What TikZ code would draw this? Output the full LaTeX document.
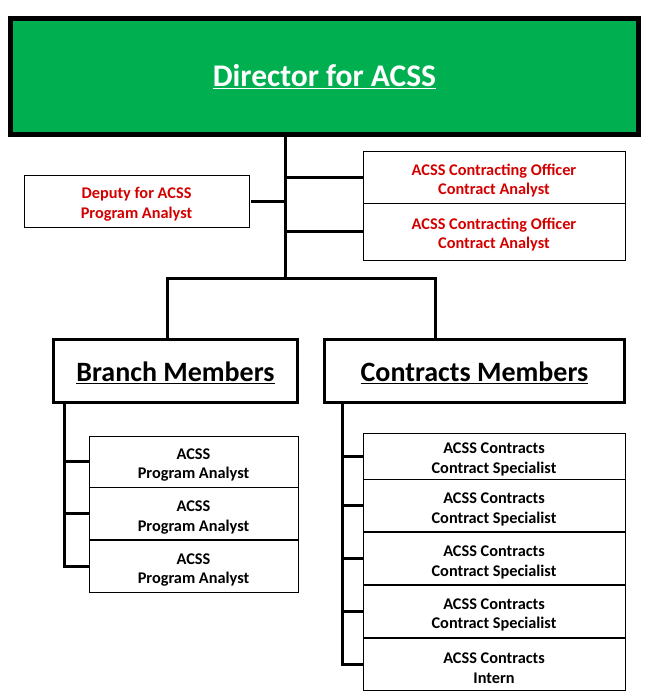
\documentclass[tikz,border=0pt]{standalone}
\usepackage{fontspec}
\setmainfont{Carlito}
\usepackage{tikz}
\usetikzlibrary{positioning}
\definecolor{dirgreen}{RGB}{0,176,80}
\definecolor{posred}{RGB}{212,0,0}
\newcommand{\twoline}[2]{\rule{0pt}{17.5pt}#1\\#2}
\tikzset{
    director/.style={rectangle, minimum width=628pt, minimum height=116pt, line width=5pt, draw=black, fill=dirgreen, text=white, font=\bfseries\fontsize{31.5}{36}\selectfont},
    group/.style={rectangle, minimum height=63pt, line width=3pt, draw=black, fill=white, font=\bfseries\fontsize{28}{32}\selectfont, execute at begin node={\rule{0pt}{24pt}}},
    post/.style={rectangle, minimum width=262pt, minimum height=52pt, draw=black, line width=0.9pt, fill=white, align=center, font=\bfseries\fontsize{16.3}{19.5}\selectfont, inner sep=0pt},
    redpost/.style={post, text=posred},
    link/.style={line width=3pt, line cap=rect}
}
\begin{document}
\begin{tikzpicture}[x=1pt, y=-1pt]
    \useasboundingbox (0,0) rectangle (656,694);
    % top
    \node (dir) [director] at (324.5,76.5) {\underline{Director for ACSS}};
    \node (dep) [redpost, minimum width=225pt] at (136.5,201) {\twoline{Deputy for ACSS}{Program Analyst}};
    \node (co1) [redpost, minimum height=52pt] at (494,177.5) {\twoline{ACSS Contracting Officer}{Contract Analyst}};
    \node (co2) [redpost, minimum height=57pt] at (494,231.5) {\twoline{ACSS Contracting Officer}{Contract Analyst}};
    % groups
    \node (br) [group, minimum width=244pt] at (175.5,371) {\underline{Branch Members}};
    \node (cm) [group, minimum width=300pt] at (474.5,371) {\underline{Contracts Members}};
    % branch members
    \node (pa1) [post, minimum width=209pt, minimum height=51pt] at (193.5,461.5) {\twoline{ACSS}{Program Analyst}};
    \node (pa2) [post, minimum width=209pt, below=0pt of pa1] {\twoline{ACSS}{Program Analyst}};
    \node (pa3) [post, minimum width=209pt, below=0pt of pa2] {\twoline{ACSS}{Program Analyst}};
    % contracts members
    \node (cs1) [post, minimum height=46pt] at (494,456) {\twoline{ACSS Contracts}{Contract Specialist}};
    \node (cs2) [post, below=0pt of cs1] {\twoline{ACSS Contracts}{Contract Specialist}};
    \node (cs3) [post, below=0pt of cs2] {\twoline{ACSS Contracts}{Contract Specialist}};
    \node (cs4) [post, below=0pt of cs3] {\twoline{ACSS Contracts}{Contract Specialist}};
    \node (in1) [post, below=0pt of cs4] {\twoline{ACSS Contracts}{Intern}};

    \coordinate (split) at (285,278);
    \coordinate (bl) at (167,278);
    \coordinate (cl) at (435,278);
    \coordinate (bx) at (64,0);
    \coordinate (cx) at (342,0);

    \draw [link] (dir.south -| split) -- (split);
    \draw [link] (br.north -| bl) -- (bl) -- (cl) -- (cm.north -| cl);
    \draw [link] ([xshift=3pt]dep.east) -- (dep.east -| split);
    \draw [link] (co1.west) -- (co1.west -| split);
    \draw [link] (co2.west) -- ([xshift=3pt]co2.west -| split);

    \draw [link] (br.south -| bx) -- (pa3.west -| bx) -- (pa3.west);
    \draw [link] (pa1.west -| bx) -- (pa1.west);
    \draw [link] (pa2.west -| bx) -- (pa2.west);

    \draw [link] (cm.south -| cx) -- (in1.west -| cx) -- (in1.west);
    \draw [link] (cs1.west -| cx) -- (cs1.west);
    \draw [link] (cs2.west -| cx) -- (cs2.west);
    \draw [link] (cs3.west -| cx) -- (cs3.west);
    \draw [link] (cs4.west -| cx) -- (cs4.west);
\end{tikzpicture}
\end{document}
